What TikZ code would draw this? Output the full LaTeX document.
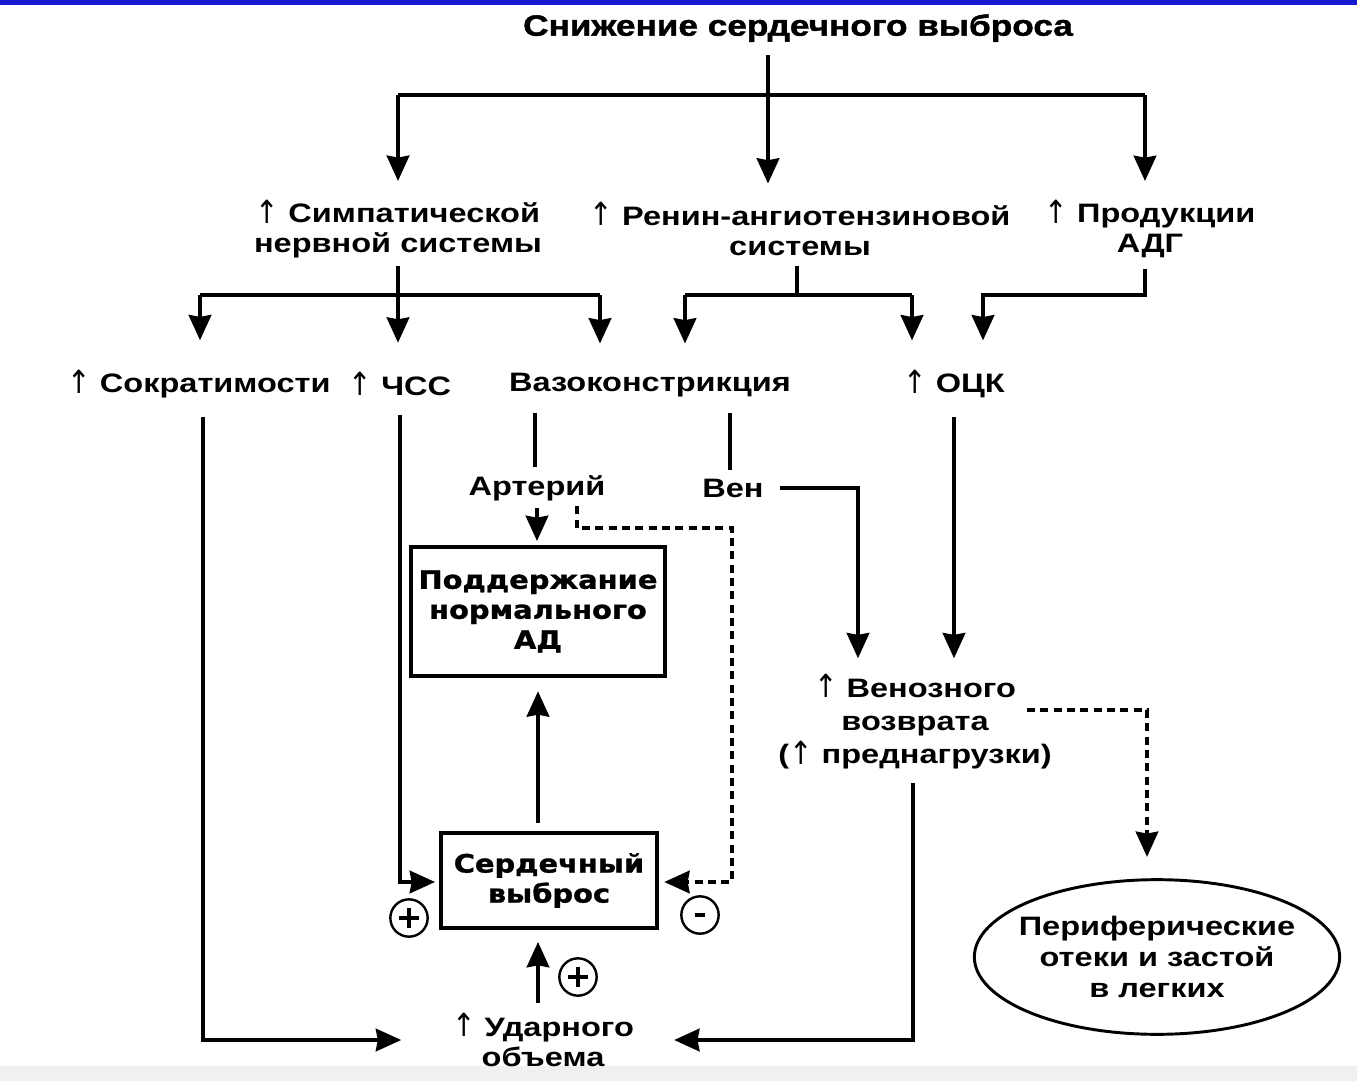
\documentclass[tikz,border=0pt]{standalone}
\usepackage{fontspec}
\setmainfont{Liberation Sans}
\newfontfamily\lblfont[FakeStretch=1.22]{Liberation Sans}
\newfontfamily\ttlfont[FakeStretch=1.2,FakeBold=1.5]{Liberation Sans}
\newfontfamily\boxfont[FakeStretch=1.14,FakeBold=1.2]{DejaVu Sans}
\newfontfamily\arrfont{DejaVu Sans}
\newcommand\myup{{\arrfont\mdseries\raisebox{-0.5pt}{\scalebox{1.05}[1.2]{↑}}}}
\usetikzlibrary{arrows.meta,shapes.geometric,calc}
\begin{document}
\begin{tikzpicture}[x=0.75pt,y=-0.75pt,
  lbl/.style={font=\lblfont\bfseries\fontsize{20}{22.5}\selectfont, align=center, inner sep=0pt},
  ttl/.style={font=\ttlfont\bfseries\fontsize{22}{24}\selectfont, inner sep=0pt},
  box/.style={draw, line width=3pt, align=center, inner sep=0pt,
    font=\boxfont\bfseries\fontsize{19}{22.5}\selectfont},
  ell/.style={draw, ellipse, line width=2.2pt, align=center, inner xsep=-12pt, inner ysep=0pt,
    minimum width=274pt, minimum height=116pt, font=\lblfont\bfseries\fontsize{20}{23}\selectfont},
  sgn/.style={draw, circle, line width=1.8pt, minimum size=28pt, inner sep=0pt},
  ln/.style={line width=2.5pt},
  arr/.style={line width=2.5pt, -{Triangle[length=19pt,width=17pt,inset=1.5pt]}},
  darr/.style={line width=2.3pt, dash pattern=on 6pt off 4pt, -{Triangle[length=19pt,width=17pt,inset=1.5pt]}}
]
% canvas
\fill[white] (0,0) rectangle (1357,1081);
\fill[black!6] (0,1066) rectangle (1357,1081);
\fill[blue!80!black!90] (0,0) rectangle (1357,5);

% nodes
\node[ttl] (t) at (798,28) {Снижение сердечного выброса};
\node[lbl] (symp) at (398,229) {\myup{} Симпатической\\нервной системы};
\node[lbl] (ren) at (800,229) {\myup{} Ренин-ангиотензиновой\\системы};
\node[lbl] (adh) at (1150,229) {\myup{} Продукции\\АДГ};
\node[lbl] (contr) at (199,384) {\myup{} Сократимости};
\node[lbl] (hr) at (400,384) {\myup{} ЧСС};
\node[lbl] (vaso) at (650,385) {Вазоконстрикция};
\node[lbl] (bcv) at (954,384) {\myup{} ОЦК};
\node[lbl] (art) at (537,488) {Артерий};
\node[lbl] (ven) at (733,488) {Вен};
\node[box, minimum width=190.5pt, minimum height=96.75pt] (bp) at (538,611.5) {Поддержание\\нормального\\АД};
\node[box, minimum width=162pt, minimum height=71.25pt] (co) at (549,880.5) {Сердечный\\выброс};
\node[lbl, font=\lblfont\bfseries\fontsize{20}{25}\selectfont] (vr) at (915,722) {\myup{} Венозного\\возврата\\(\myup{} преднагрузки)};
\node[ell] (edema) at (1157,957) {Периферические\\отеки и застой\\в легких};
\node[lbl] (sv) at (543,1040) {\myup{} Ударного\\объема};
\node[sgn] (p1) at (409,918) {};
\node[sgn] (m1) at (700,915) {};
\node[sgn] (p2) at (578,977) {};
\draw[line width=2.6pt] ([xshift=-7.5pt]p1.center) -- ([xshift=7.5pt]p1.center)
  ([yshift=-7.5pt]p1.center) -- ([yshift=7.5pt]p1.center);
\draw[line width=2.6pt] ([xshift=-7.5pt]p2.center) -- ([xshift=7.5pt]p2.center)
  ([yshift=-7.5pt]p2.center) -- ([yshift=7.5pt]p2.center);
\draw[line width=2.6pt] ([xshift=-4pt]m1.center) -- ([xshift=4pt]m1.center);

% junction / column coordinates
\coordinate (jt) at (768,95);
\coordinate (jtl) at (398,95);
\coordinate (jtr) at (1145,95);
\coordinate (js) at (398,295);
\coordinate (jsl) at (200,295);
\coordinate (jsr) at (600,295);
\coordinate (jr) at (797,295);
\coordinate (jrl) at (685,295);
\coordinate (jrr) at (912,295);
\coordinate (ja) at (1145,295);
\coordinate (jab) at (983,295);
\coordinate (xc) at (203,1040);
\coordinate (xh) at (400,882);
\coordinate (xa) at (535,0);
\coordinate (xv) at (730,0);
\coordinate (xar) at (537,0);
\coordinate (xd) at (577,528);
\coordinate (xdr) at (732,528);
\coordinate (xdb) at (732,882);
\coordinate (xvn) at (858,488);
\coordinate (xo) at (954,0);
\coordinate (xm) at (538,0);
\coordinate (xr) at (913,1040);
\coordinate (xe) at (1027,710);
\coordinate (xer) at (1147,710);

% title fan-out
\draw[ln] ([yshift=-10pt]jt |- t.south) -- (jt);
\draw[ln] (jtl) -- (jtr);
\draw[arr] (jt) -- ([yshift=14pt]jt |- ren.north);
\draw[arr] (jtl) -- ([yshift=14pt]jtl |- symp.north);
\draw[arr] (jtr) -- ([yshift=14pt]jtr |- adh.north);

% sympathetic
\draw[ln] ([yshift=-6pt]js |- symp.south) -- (js);
\draw[ln] (jsl) -- (jsr);
\draw[arr] (jsl) -- ([yshift=22pt]jsl |- contr.north);
\draw[arr] (js) -- ([yshift=22pt]js |- hr.north);
\draw[arr] (jsr) -- ([yshift=22pt]jsr |- vaso.north);

% renin
\draw[ln] ([yshift=-8pt]jr |- ren.south) -- (jr);
\draw[ln] (jrl) -- (jrr);
\draw[arr] (jrl) -- ([yshift=22pt]jrl |- vaso.north);
\draw[arr] (jrr) -- ([yshift=22pt]jrr |- bcv.north);

% ADH
\draw[arr] ([yshift=-8pt]ja |- adh.south) -- (ja) -- (jab) -- ([yshift=22pt]jab |- bcv.north);

% contractility -> stroke volume
\draw[arr] ([yshift=-14pt]xc |- contr.south) -- (xc) -- ([xshift=-38pt]sv.west |- xc);
% HR -> CO
\draw[arr] ([yshift=-14pt]xh |- hr.south) -- (xh) -- ([xshift=-3pt]co.west |- xh);
% vasoconstriction branches
\draw[ln] ([yshift=-12pt]xa |- vaso.south) -- ([yshift=6pt]xa |- art.north);
\draw[ln] ([yshift=-12pt]xv |- vaso.south) -- ([yshift=6pt]xv |- ven.north);
% arteries -> BP
\draw[arr] ([yshift=-5pt]xar |- art.south) -- ([yshift=3pt]xar |- bp.north);
% arteries -> CO (dashed)
\draw[darr] ([yshift=-4pt]xd |- art.south) -- (xd) -- (xdr) -- (xdb) -- ([xshift=4pt]co.east |- xdb);
% veins -> venous return
\draw[arr] ([xshift=12pt]ven.east) -- (xvn) -- ([yshift=12pt]xvn |- vr.north);
% BCV -> venous return
\draw[arr] ([yshift=-14pt]xo |- bcv.south) -- ([yshift=12pt]xo |- vr.north);
% CO -> BP
\draw[arr] ([yshift=6pt]xm |- co.north) -- ([yshift=-10pt]xm |- bp.south);
% SV -> CO
\draw[arr] ([yshift=8pt]xm |- sv.north) -- ([yshift=-9pt]xm |- co.south);
% venous return -> SV
\draw[arr] ([yshift=-10pt]xr |- vr.south) -- (xr) -- ([xshift=30pt]sv.east |- xr);
% venous return -> edema (dashed)
\draw[darr] (xe) -- (xer) -- ([yshift=16pt]xer |- edema.north);
\end{tikzpicture}
\end{document}
